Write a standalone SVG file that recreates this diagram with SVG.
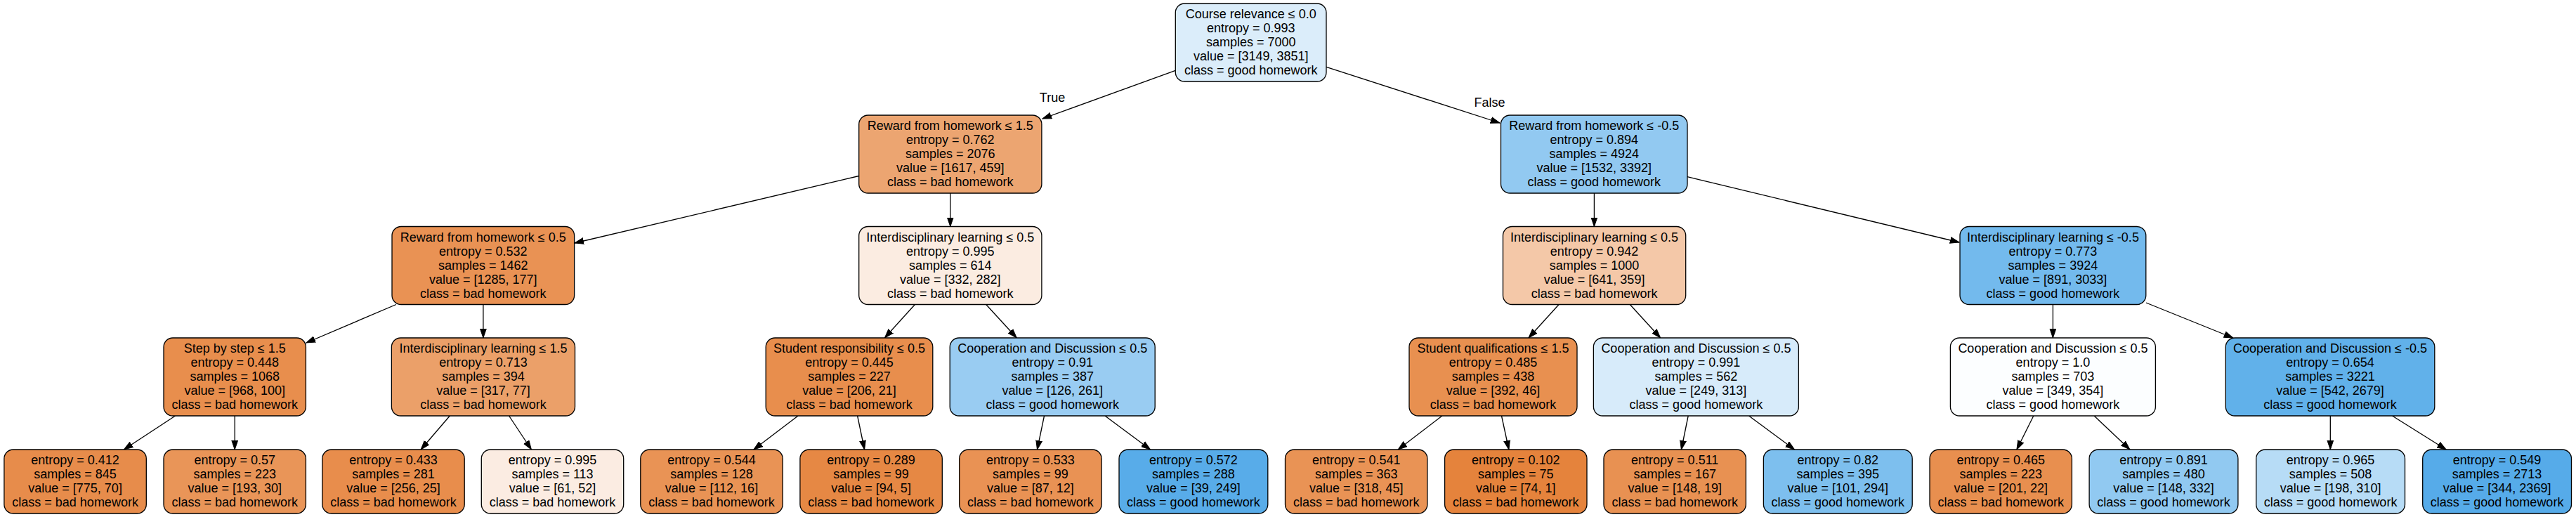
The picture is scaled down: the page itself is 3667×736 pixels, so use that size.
<svg xmlns="http://www.w3.org/2000/svg" width="3667" height="736" viewBox="0 0 3667 736">
<style>
.n rect{stroke:#000;stroke-width:1.3}
text{font-family:"Liberation Sans",Arial,Helvetica,sans-serif;font-size:18px;text-anchor:middle;fill:#000}
#edges line{stroke:#000;stroke-width:1.3;marker-end:url(#arr)}
</style>
<defs>
<marker id="arr" markerUnits="userSpaceOnUse" markerWidth="14" markerHeight="10" refX="13" refY="5" orient="auto">
<path d="M0,0.6 L13,5 L0,9.4 Z" fill="#000" stroke="#000" stroke-width="1"/>
</marker>
</defs>
<rect x="0" y="0" width="3667" height="736" fill="#fff"/>
<g id="edges">
<line x1="1673.3" y1="100.4" x2="1484" y2="169"/>
<line x1="1888" y1="95.4" x2="2135" y2="175"/>
<line x1="1222.7" y1="250.5" x2="818" y2="346"/>
<line x1="1352.8" y1="275" x2="1352.8" y2="322.5"/>
<line x1="2269.4" y1="275" x2="2269.4" y2="322.5"/>
<line x1="2402" y1="251.7" x2="2789" y2="345"/>
<line x1="563.9" y1="433.5" x2="436" y2="488"/>
<line x1="687.9" y1="433.5" x2="687.9" y2="481"/>
<line x1="1302.4" y1="433.5" x2="1259.4" y2="481"/>
<line x1="1403.7" y1="433.5" x2="1447.3" y2="481"/>
<line x1="2219.1" y1="433.5" x2="2176" y2="481"/>
<line x1="2320.3" y1="433.5" x2="2363.7" y2="481"/>
<line x1="2922.4" y1="433.5" x2="2922.4" y2="481"/>
<line x1="3055" y1="431" x2="3178.8" y2="481"/>
<line x1="249.5" y1="592" x2="176.4" y2="640"/>
<line x1="334.2" y1="592" x2="334.2" y2="640"/>
<line x1="640.3" y1="592" x2="599.1" y2="640"/>
<line x1="724.6" y1="592" x2="756.4" y2="640"/>
<line x1="1136" y1="592" x2="1072.9" y2="640"/>
<line x1="1220.6" y1="592" x2="1230.6" y2="640"/>
<line x1="1486.5" y1="592" x2="1476.5" y2="640"/>
<line x1="1573" y1="592" x2="1637.6" y2="640"/>
<line x1="2052.9" y1="592" x2="1990.2" y2="640"/>
<line x1="2137.5" y1="592" x2="2147.9" y2="640"/>
<line x1="2403.2" y1="592" x2="2393.4" y2="640"/>
<line x1="2489.6" y1="592" x2="2554.6" y2="640"/>
<line x1="2894.8" y1="592" x2="2870.9" y2="640"/>
<line x1="2981.1" y1="592" x2="3031.9" y2="640"/>
<line x1="3317.3" y1="592" x2="3317.3" y2="640"/>
<line x1="3405.5" y1="592" x2="3482.1" y2="640"/>
<text x="1498" y="145">True</text>
<text x="2120.5" y="151.5">False</text>
</g>
<g id="n0" class="n"><rect x="1673.3" y="5" width="214.7" height="111" rx="13" fill="#dbedfa"/><text x="1780.7" y="26">Course relevance ≤ 0.0<tspan x="1780.7" dy="20">entropy = 0.993</tspan><tspan x="1780.7" dy="20">samples = 7000</tspan><tspan x="1780.7" dy="20">value = [3149, 3851]</tspan><tspan x="1780.7" dy="20">class = good homework</tspan></text></g>
<g id="n1" class="n"><rect x="1222.7" y="164" width="260.2" height="111" rx="13" fill="#eca571"/><text x="1352.8" y="185">Reward from homework ≤ 1.5<tspan x="1352.8" dy="20">entropy = 0.762</tspan><tspan x="1352.8" dy="20">samples = 2076</tspan><tspan x="1352.8" dy="20">value = [1617, 459]</tspan><tspan x="1352.8" dy="20">class = bad homework</tspan></text></g>
<g id="n2" class="n"><rect x="2136.5" y="164" width="265.5" height="111" rx="13" fill="#92c9f1"/><text x="2269.3" y="185">Reward from homework ≤ -0.5<tspan x="2269.3" dy="20">entropy = 0.894</tspan><tspan x="2269.3" dy="20">samples = 4924</tspan><tspan x="2269.3" dy="20">value = [1532, 3392]</tspan><tspan x="2269.3" dy="20">class = good homework</tspan></text></g>
<g id="n3" class="n"><rect x="558" y="322.5" width="259.6" height="111" rx="13" fill="#e99254"/><text x="687.8" y="343.5">Reward from homework ≤ 0.5<tspan x="687.8" dy="20">entropy = 0.532</tspan><tspan x="687.8" dy="20">samples = 1462</tspan><tspan x="687.8" dy="20">value = [1285, 177]</tspan><tspan x="687.8" dy="20">class = bad homework</tspan></text></g>
<g id="n4" class="n"><rect x="1222.7" y="322.5" width="260.2" height="111" rx="13" fill="#fbece1"/><text x="1352.8" y="343.5">Interdisciplinary learning ≤ 0.5<tspan x="1352.8" dy="20">entropy = 0.995</tspan><tspan x="1352.8" dy="20">samples = 614</tspan><tspan x="1352.8" dy="20">value = [332, 282]</tspan><tspan x="1352.8" dy="20">class = bad homework</tspan></text></g>
<g id="n5" class="n"><rect x="2139.5" y="322.5" width="260.2" height="111" rx="13" fill="#f4c8a8"/><text x="2269.6" y="343.5">Interdisciplinary learning ≤ 0.5<tspan x="2269.6" dy="20">entropy = 0.942</tspan><tspan x="2269.6" dy="20">samples = 1000</tspan><tspan x="2269.6" dy="20">value = [641, 359]</tspan><tspan x="2269.6" dy="20">class = bad homework</tspan></text></g>
<g id="n6" class="n"><rect x="2790" y="322.5" width="264.8" height="111" rx="13" fill="#73baed"/><text x="2922.4" y="343.5">Interdisciplinary learning ≤ -0.5<tspan x="2922.4" dy="20">entropy = 0.773</tspan><tspan x="2922.4" dy="20">samples = 3924</tspan><tspan x="2922.4" dy="20">value = [891, 3033]</tspan><tspan x="2922.4" dy="20">class = good homework</tspan></text></g>
<g id="n7" class="n"><rect x="233" y="481" width="202.4" height="111" rx="13" fill="#e88e4d"/><text x="334.2" y="502">Step by step ≤ 1.5<tspan x="334.2" dy="20">entropy = 0.448</tspan><tspan x="334.2" dy="20">samples = 1068</tspan><tspan x="334.2" dy="20">value = [968, 100]</tspan><tspan x="334.2" dy="20">class = bad homework</tspan></text></g>
<g id="n8" class="n"><rect x="557.4" y="481" width="261.1" height="111" rx="13" fill="#eba069"/><text x="688" y="502">Interdisciplinary learning ≤ 1.5<tspan x="688" dy="20">entropy = 0.713</tspan><tspan x="688" dy="20">samples = 394</tspan><tspan x="688" dy="20">value = [317, 77]</tspan><tspan x="688" dy="20">class = bad homework</tspan></text></g>
<g id="n9" class="n"><rect x="1090.2" y="481" width="237.6" height="111" rx="13" fill="#e88e4d"/><text x="1209" y="502">Student responsibility ≤ 0.5<tspan x="1209" dy="20">entropy = 0.445</tspan><tspan x="1209" dy="20">samples = 227</tspan><tspan x="1209" dy="20">value = [206, 21]</tspan><tspan x="1209" dy="20">class = bad homework</tspan></text></g>
<g id="n10" class="n"><rect x="1352.2" y="481" width="292" height="111" rx="13" fill="#99ccf2"/><text x="1498.2" y="502">Cooperation and Discussion ≤ 0.5<tspan x="1498.2" dy="20">entropy = 0.91</tspan><tspan x="1498.2" dy="20">samples = 387</tspan><tspan x="1498.2" dy="20">value = [126, 261]</tspan><tspan x="1498.2" dy="20">class = good homework</tspan></text></g>
<g id="n11" class="n"><rect x="2006" y="481" width="239" height="111" rx="13" fill="#e89050"/><text x="2125.5" y="502">Student qualifications ≤ 1.5<tspan x="2125.5" dy="20">entropy = 0.485</tspan><tspan x="2125.5" dy="20">samples = 438</tspan><tspan x="2125.5" dy="20">value = [392, 46]</tspan><tspan x="2125.5" dy="20">class = bad homework</tspan></text></g>
<g id="n12" class="n"><rect x="2268.4" y="481" width="292" height="111" rx="13" fill="#d7ebfa"/><text x="2414.4" y="502">Cooperation and Discussion ≤ 0.5<tspan x="2414.4" dy="20">entropy = 0.991</tspan><tspan x="2414.4" dy="20">samples = 562</tspan><tspan x="2414.4" dy="20">value = [249, 313]</tspan><tspan x="2414.4" dy="20">class = good homework</tspan></text></g>
<g id="n13" class="n"><rect x="2776.4" y="481" width="292" height="111" rx="13" fill="#fcfeff"/><text x="2922.4" y="502">Cooperation and Discussion ≤ 0.5<tspan x="2922.4" dy="20">entropy = 1.0</tspan><tspan x="2922.4" dy="20">samples = 703</tspan><tspan x="2922.4" dy="20">value = [349, 354]</tspan><tspan x="2922.4" dy="20">class = good homework</tspan></text></g>
<g id="n14" class="n"><rect x="3168.3" y="481" width="297.5" height="111" rx="13" fill="#61b1ea"/><text x="3317" y="502">Cooperation and Discussion ≤ -0.5<tspan x="3317" dy="20">entropy = 0.654</tspan><tspan x="3317" dy="20">samples = 3221</tspan><tspan x="3317" dy="20">value = [542, 2679]</tspan><tspan x="3317" dy="20">class = good homework</tspan></text></g>
<g id="n15" class="n"><rect x="5.9" y="640" width="202.4" height="91" rx="13" fill="#e78c4b"/><text x="107.1" y="661">entropy = 0.412<tspan x="107.1" dy="20">samples = 845</tspan><tspan x="107.1" dy="20">value = [775, 70]</tspan><tspan x="107.1" dy="20">class = bad homework</tspan></text></g>
<g id="n16" class="n"><rect x="233" y="640" width="202.4" height="91" rx="13" fill="#e99558"/><text x="334.2" y="661">entropy = 0.57<tspan x="334.2" dy="20">samples = 223</tspan><tspan x="334.2" dy="20">value = [193, 30]</tspan><tspan x="334.2" dy="20">class = bad homework</tspan></text></g>
<g id="n17" class="n"><rect x="458.8" y="640" width="202.4" height="91" rx="13" fill="#e88d4c"/><text x="560" y="661">entropy = 0.433<tspan x="560" dy="20">samples = 281</tspan><tspan x="560" dy="20">value = [256, 25]</tspan><tspan x="560" dy="20">class = bad homework</tspan></text></g>
<g id="n18" class="n"><rect x="685.3" y="640" width="202.4" height="91" rx="13" fill="#fbece2"/><text x="786.5" y="661">entropy = 0.995<tspan x="786.5" dy="20">samples = 113</tspan><tspan x="786.5" dy="20">value = [61, 52]</tspan><tspan x="786.5" dy="20">class = bad homework</tspan></text></g>
<g id="n19" class="n"><rect x="911.8" y="640" width="202.4" height="91" rx="13" fill="#e99355"/><text x="1013" y="661">entropy = 0.544<tspan x="1013" dy="20">samples = 128</tspan><tspan x="1013" dy="20">value = [112, 16]</tspan><tspan x="1013" dy="20">class = bad homework</tspan></text></g>
<g id="n20" class="n"><rect x="1138.9" y="640" width="202.4" height="91" rx="13" fill="#e68844"/><text x="1240.1" y="661">entropy = 0.289<tspan x="1240.1" dy="20">samples = 99</tspan><tspan x="1240.1" dy="20">value = [94, 5]</tspan><tspan x="1240.1" dy="20">class = bad homework</tspan></text></g>
<g id="n21" class="n"><rect x="1365.7" y="640" width="202.4" height="91" rx="13" fill="#e99254"/><text x="1466.9" y="661">entropy = 0.533<tspan x="1466.9" dy="20">samples = 99</tspan><tspan x="1466.9" dy="20">value = [87, 12]</tspan><tspan x="1466.9" dy="20">class = bad homework</tspan></text></g>
<g id="n22" class="n"><rect x="1593" y="640" width="211.8" height="91" rx="13" fill="#58ace9"/><text x="1698.9" y="661">entropy = 0.572<tspan x="1698.9" dy="20">samples = 288</tspan><tspan x="1698.9" dy="20">value = [39, 249]</tspan><tspan x="1698.9" dy="20">class = good homework</tspan></text></g>
<g id="n23" class="n"><rect x="1829.5" y="640" width="202.4" height="91" rx="13" fill="#e99355"/><text x="1930.7" y="661">entropy = 0.541<tspan x="1930.7" dy="20">samples = 363</tspan><tspan x="1930.7" dy="20">value = [318, 45]</tspan><tspan x="1930.7" dy="20">class = bad homework</tspan></text></g>
<g id="n24" class="n"><rect x="2056.6" y="640" width="202.4" height="91" rx="13" fill="#e5833c"/><text x="2157.8" y="661">entropy = 0.102<tspan x="2157.8" dy="20">samples = 75</tspan><tspan x="2157.8" dy="20">value = [74, 1]</tspan><tspan x="2157.8" dy="20">class = bad homework</tspan></text></g>
<g id="n25" class="n"><rect x="2283" y="640" width="202.4" height="91" rx="13" fill="#e89152"/><text x="2384.2" y="661">entropy = 0.511<tspan x="2384.2" dy="20">samples = 167</tspan><tspan x="2384.2" dy="20">value = [148, 19]</tspan><tspan x="2384.2" dy="20">class = bad homework</tspan></text></g>
<g id="n26" class="n"><rect x="2510.4" y="640" width="211.8" height="91" rx="13" fill="#7dbfee"/><text x="2616.3" y="661">entropy = 0.82<tspan x="2616.3" dy="20">samples = 395</tspan><tspan x="2616.3" dy="20">value = [101, 294]</tspan><tspan x="2616.3" dy="20">class = good homework</tspan></text></g>
<g id="n27" class="n"><rect x="2747" y="640" width="202.4" height="91" rx="13" fill="#e88f4f"/><text x="2848.2" y="661">entropy = 0.465<tspan x="2848.2" dy="20">samples = 223</tspan><tspan x="2848.2" dy="20">value = [201, 22]</tspan><tspan x="2848.2" dy="20">class = bad homework</tspan></text></g>
<g id="n28" class="n"><rect x="2974.1" y="640" width="211.8" height="91" rx="13" fill="#91c9f1"/><text x="3080" y="661">entropy = 0.891<tspan x="3080" dy="20">samples = 480</tspan><tspan x="3080" dy="20">value = [148, 332]</tspan><tspan x="3080" dy="20">class = good homework</tspan></text></g>
<g id="n29" class="n"><rect x="3211.7" y="640" width="211.8" height="91" rx="13" fill="#b7dcf6"/><text x="3317.6" y="661">entropy = 0.965<tspan x="3317.6" dy="20">samples = 508</tspan><tspan x="3317.6" dy="20">value = [198, 310]</tspan><tspan x="3317.6" dy="20">class = good homework</tspan></text></g>
<g id="n30" class="n"><rect x="3448.7" y="640" width="211.8" height="91" rx="13" fill="#56abe9"/><text x="3554.6" y="661">entropy = 0.549<tspan x="3554.6" dy="20">samples = 2713</tspan><tspan x="3554.6" dy="20">value = [344, 2369]</tspan><tspan x="3554.6" dy="20">class = good homework</tspan></text></g>
</svg>
